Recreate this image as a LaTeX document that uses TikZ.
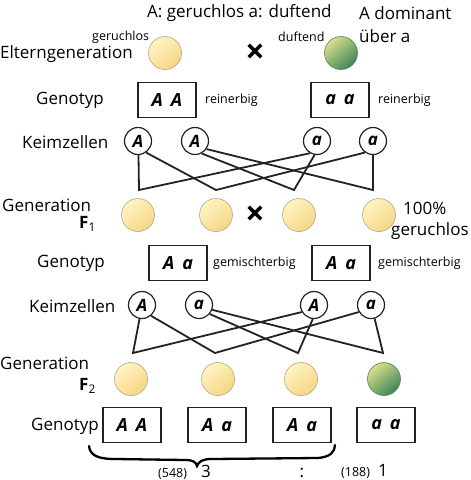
\documentclass[tikz,border=0pt]{standalone}
\usepackage{fontspec}
\setmainfont{Open Sans}
\definecolor{ylight}{HTML}{FFF4C2}
\definecolor{ydark}{HTML}{F6D585}
\definecolor{yedge}{HTML}{B4A684}
\definecolor{glight}{HTML}{D8E08A}
\definecolor{gdark}{HTML}{3C8658}
\definecolor{gedge}{HTML}{5E7E60}
\definecolor{ink}{HTML}{222222}
\begin{document}
\begin{tikzpicture}[x=1pt,y=-1pt,
  lbl/.style={font=\fontsize{17}{20}\selectfont, inner sep=0pt},
  sml/.style={font=\fontsize{12.5}{15}\selectfont, inner sep=0pt},
  ybean/.style={circle, minimum size=33pt, inner sep=0pt, draw=yedge, line width=0.6pt,
    top color=ylight, bottom color=ydark, shading angle=40},
  gbean/.style={circle, minimum size=33pt, inner sep=0pt, draw=gedge, line width=0.6pt,
    top color=glight, bottom color=gdark, shading angle=40},
  gam/.style={circle, minimum size=27pt, inner sep=0pt, draw=ink, line width=1.2pt,
    font=\fontsize{17}{18}\selectfont\bfseries\itshape},
  gbox/.style={draw=ink, line width=1.3pt, minimum width=58pt, minimum height=35pt, inner sep=0pt,
    font=\fontsize{18}{20}\selectfont\bfseries\itshape},
  cross/.style={font=\fontsize{34}{36}\selectfont\bfseries, inner sep=0pt},
  wire/.style={draw=ink, line width=1.8pt, line join=miter}
]
\useasboundingbox (0,0) rectangle (471,480);

% ---------- header ----------
\node[lbl, anchor=west] (legend) at (147,13) {A: geruchlos a: duftend};
\node[lbl, anchor=west] (dom1) at (359,13) {A dominant};
\node[lbl, anchor=west] (dom2) at (359,36) {über a};

% ---------- parents ----------
\node[lbl, anchor=west] (elt) at (0,54) {Elterngeneration};
\node[sml, anchor=west] (ger) at (92,37) {geruchlos};
\node[sml, anchor=west] (duf) at (278,37) {duftend};
\node[ybean] (p1) at (165,53) {};
\node[gbean] (p2) at (341,53) {};
\node[cross] (x1) at (255,54) {×};

\node[lbl, anchor=west] (gt1) at (36,100) {Genotyp};
\node[gbox] (b1) at (167,100) {A\hspace{8pt}A};
\node[gbox] (b2) at (340,100) {a\hspace{8pt}a};
\node[sml, anchor=west] (r1) at (205,100) {reinerbig};
\node[sml, anchor=west] (r2) at (378,100) {reinerbig};

\node[lbl, anchor=west] (k1) at (22,142) {Keimzellen};
\node[gam] (g1) at (138,141) {A};
\node[gam] (g2) at (195,141) {A};
\node[gam] (g3) at (317,141) {a};
\node[gam] (g4) at (373,141) {a};

\coordinate (v1) at (139,190);
\coordinate (v2) at (216,190);
\coordinate (v3) at (294,190);
\coordinate (v4) at (373,190);
\draw[wire] (g1.-88) -- (v1) -- (g3.-120);
\draw[wire] (g1.-55) -- (v2) -- (g4.-125);
\draw[wire] (g2.-62) -- (v3) -- (g3.-100);
\draw[wire] (g2.-35) -- (v4) -- (g4.-90);

% ---------- F1 ----------
\node[lbl, anchor=west] (gen1) at (2,205) {Generation};
\node[lbl, anchor=west] (f1) at (79,224) {\textbf{F}\textsubscript{1}};
\node[ybean] (c1) at (138,215) {};
\node[ybean] (c2) at (216,215) {};
\node[ybean] (c3) at (299,215) {};
\node[ybean] (c4) at (379,215) {};
\node[cross] (x2) at (255,216) {×};
\node[lbl, anchor=west] (pc) at (403,208) {100\%};
\node[lbl, anchor=west] (pg) at (391,231) {geruchlos};

\node[lbl, anchor=west] (gt2) at (37,263) {Genotyp};
\node[gbox] (b3) at (178,263) {A\hspace{8pt}a};
\node[gbox] (b4) at (341,263) {A\hspace{8pt}a};
\node[sml, anchor=west] (m1) at (213,263) {gemischterbig};
\node[sml, anchor=west] (m2) at (378,263) {gemischterbig};

\node[lbl, anchor=west] (k2) at (29,306) {Keimzellen};
\node[gam] (h1) at (142,305) {A};
\node[gam] (h2) at (199,305) {a};
\node[gam] (h3) at (314,305) {A};
\node[gam] (h4) at (371,305) {a};

\coordinate (w1) at (133,353);
\coordinate (w2) at (215,353);
\coordinate (w3) at (298,353);
\coordinate (w4) at (383,353);
\draw[wire] (h1.-100) -- (w1) -- (h3.-150);
\draw[wire] (h1.-50) -- (w2) -- (h4.-150);
\draw[wire] (h2.-40) -- (w3) -- (h3.-95);
\draw[wire] (h2.-20) -- (w4) -- (h4.-75);

% ---------- F2 ----------
\node[lbl, anchor=west] (gen2) at (0,363) {Generation};
\node[lbl, anchor=west] (f2) at (79,386) {\textbf{F}\textsubscript{2}};
\node[ybean] (d1) at (131,379) {};
\node[ybean] (d2) at (218,379) {};
\node[ybean] (d3) at (301,379) {};
\node[gbean] (d4) at (384,379) {};

\node[lbl, anchor=west] (gt3) at (31,426) {Genotyp};
\node[gbox] (e1) at (132,425) {A\hspace{8pt}A};
\node[gbox] (e2) at (217,425) {A\hspace{8pt}a};
\node[gbox] (e3) at (302,425) {A\hspace{8pt}a};
\node[gbox] (e4) at (386,425) {a\hspace{8pt}a};

% brace
\draw[line width=2.3pt, line cap=round, black]
  (89,446) .. controls (90,455) and (97,459) .. (115,459)
  -- (185,460) .. controls (193,460) and (196,462) .. (197,466)
  .. controls (199,461) and (203,459) .. (212,459)
  -- (318,458) .. controls (330,457) and (335,452) .. (335,445);

\node[sml, anchor=base west] (n1) at (158,477) {(548)};
\node[lbl, anchor=base west] (n2) at (201,477) {3};
\node[lbl, anchor=base] (colon) at (302,477) {:};
\node[sml, anchor=base west] (n3) at (341,476) {(188)};
\node[lbl, anchor=base west] (n4) at (378,476) {1};
\end{tikzpicture}
\end{document}
